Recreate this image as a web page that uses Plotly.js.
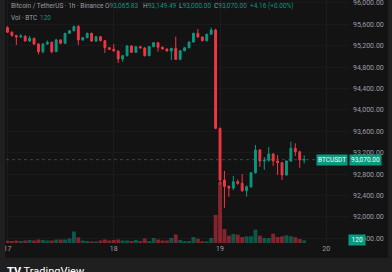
<!DOCTYPE html>
<html><head><meta charset="utf-8">
<script src="https://cdn.plot.ly/plotly-3.0.1.min.js"></script>
<style>html,body{margin:0;padding:0;background:#131313;overflow:hidden}#c{width:392px;height:272px}</style>
</head><body><div id="c"></div><script>
const times = [
'2024-12-17 00:00','2024-12-17 01:00','2024-12-17 02:00','2024-12-17 03:00','2024-12-17 04:00','2024-12-17 05:00','2024-12-17 06:00','2024-12-17 07:00',
'2024-12-17 08:00','2024-12-17 09:00','2024-12-17 10:00','2024-12-17 11:00','2024-12-17 12:00','2024-12-17 13:00','2024-12-17 14:00','2024-12-17 15:00',
'2024-12-17 16:00','2024-12-17 17:00','2024-12-17 18:00','2024-12-17 19:00','2024-12-17 20:00','2024-12-17 21:00','2024-12-17 22:00','2024-12-17 23:00',
'2024-12-18 00:00','2024-12-18 01:00','2024-12-18 02:00','2024-12-18 03:00','2024-12-18 04:00','2024-12-18 05:00','2024-12-18 06:00','2024-12-18 07:00',
'2024-12-18 08:00','2024-12-18 09:00','2024-12-18 10:00','2024-12-18 11:00','2024-12-18 12:00','2024-12-18 13:00','2024-12-18 14:00','2024-12-18 15:00',
'2024-12-18 16:00','2024-12-18 17:00','2024-12-18 18:00','2024-12-18 19:00','2024-12-18 20:00','2024-12-18 21:00','2024-12-18 22:00','2024-12-18 23:00',
'2024-12-19 00:00','2024-12-19 01:00','2024-12-19 02:00','2024-12-19 03:00','2024-12-19 04:00','2024-12-19 05:00','2024-12-19 06:00','2024-12-19 07:00',
'2024-12-19 08:00','2024-12-19 09:00','2024-12-19 10:00','2024-12-19 11:00','2024-12-19 12:00','2024-12-19 13:00','2024-12-19 14:00','2024-12-19 15:00',
'2024-12-19 16:00','2024-12-19 17:00','2024-12-19 18:00','2024-12-19 19:00'];
const opens = [95540,95455,95390,95365,95380,95290,95340,95233,95090,95233,95265,95090,95310,95246,95433,95482,
95560,95308,95351,95433,95289,95370,95295,95164,95134,95102,94953,95015,95196,95078,95183,95160,
95015,95183,95258,95172,95140,95102,95153,94947,95108,95164,95270,95433,95364,95295,95415,95495,
93657,92690,92570,92540,92658,92628,92490,92565,92826,93251,93045,93060,93176,93045,93014,92784,
93045,93283,93219,93065.83];
const highs = [95565,95470,95405,95420,95395,95385,95350,95245,95250,95300,95280,95330,95320,95440,95495,95575,
95590,95365,95445,95445,95385,95380,95305,95175,95233,95115,95030,95210,95205,95195,95195,95170,
95195,95270,95268,95185,95150,95160,95370,95115,95175,95280,95445,95514,95375,95425,95540,95520,
93670,92860,92590,92765,92700,92802,92590,92840,93345,93270,93120,93307,93190,93158,93030,93060,
93407,93377,93235,93149.49];
const lows = [95440,95375,95215,95350,95280,95270,95220,95040,95060,95220,95060,95080,95230,95235,95420,95470,
95215,95295,95340,95275,95270,95285,95065,95120,95095,94878,94902,95000,95065,95065,95150,95000,
95005,95175,95090,95130,95095,94934,94935,94930,95095,95150,95260,95350,95285,95280,95405,93640,
92600,92170,92378,92500,92600,92470,92378,92540,92810,92934,92880,93030,92952,92784,92690,92770,
93030,93139,92915,93000];
const closes = [95455,95390,95365,95380,95290,95340,95233,95090,95233,95265,95090,95310,95246,95433,95482,95560,
95308,95351,95433,95289,95370,95295,95164,95134,95102,94953,95015,95196,95078,95183,95160,95015,
95183,95258,95172,95140,95102,95153,94947,95108,95164,95270,95433,95364,95295,95415,95495,93657,
92690,92570,92540,92658,92628,92490,92565,92826,93251,93045,93060,93176,93045,93014,92784,93045,
93283,93219,93065.83,93070];
const volumes = [104,90,112,90,112,135,112,158,135,112,112,158,158,158,203,518,
248,112,90,68,68,112,158,112,135,158,112,112,90,135,90,203,
90,225,158,112,112,225,383,135,90,90,270,194,77,77,225,1260,
2745,630,329,405,374,270,302,302,599,329,225,225,419,270,302,347,
302,257,180,120];
const priceTicks = [91600,92000,92400,92800,93200,93600,94000,94400,94800,95200,95600,96000];
const dayTicks = ['2024-12-17','2024-12-18','2024-12-19','2024-12-20'];
const dayLabels = ['17','18','19','20'];
const header = {symbol:'Bitcoin / TetherUS · 1h · Binance', o:'93,065.83', h:'93,149.49', l:'93,000.00', c:'93,070.00', chg:'+4.16 (+0.00%)', volLabel:'Vol · BTC', vol:'120'};
const lastPrice = 93070, lastPriceText = '93,070.00', lastVol = 120, tickerName = 'BTCUSDT';

const GREEN='#089981', RED='#f23645', GRAY='#9b9ea6';
const W=392,Hh=272,L=6,R=44,T=0,B=29;
const PW=W-L-R, PH=Hh-T-B;
const PX = p => (p-L)/PW;
const PY = p => (T+PH-p)/PH;
const volColors = closes.map((c,i)=> c>=opens[i] ? 'rgba(8,153,129,0.5)' : 'rgba(242,54,69,0.5)');

const font = 'Roboto, "Noto Sans", sans-serif';
const traces = [
 {type:'bar', x:times, y:volumes, marker:{color:volColors, line:{width:0}}, yaxis:'y', xaxis:'x', hoverinfo:'skip'},
 {type:'candlestick', x:times, open:opens, high:highs, low:lows, close:closes, yaxis:'y2', xaxis:'x',
  increasing:{line:{color:GREEN,width:1}, fillcolor:GREEN},
  decreasing:{line:{color:RED,width:1}, fillcolor:RED}, whiskerwidth:0}
];
function ann(x,y,text,color,size,extra){return Object.assign({xref:'paper',yref:'paper',x:PX(x),y:PY(y),xanchor:'left',yanchor:'middle',text:text,showarrow:false,font:{family:font,size:size||6.5,color:color||GRAY}},extra||{});}
const sp = v => "<span style='color:"+GREEN+"'>"+v+"</span>";
const layout = {
 width:W,height:Hh,margin:{l:L,r:R,t:T,b:B,pad:0},
 paper_bgcolor:'#131313', plot_bgcolor:'#131313', showlegend:false, bargap:0.12, boxgap:0.4,
 xaxis:{type:'date', range:['2024-12-16 23:40','2024-12-20 04:54'], tickvals:dayTicks, ticktext:dayLabels,
   showgrid:true, gridcolor:'#1c1c1c', gridwidth:1, zeroline:false, showline:false, ticks:'',
   tickfont:{family:font,size:7,color:GRAY}, rangeslider:{visible:false}, fixedrange:true},
 yaxis:{range:[0,10935], visible:false, fixedrange:true, showgrid:false, zeroline:false},
 yaxis2:{overlaying:'y', side:'right', range:[91512,96056], tickvals:priceTicks, tickformat:',.2f',
   showgrid:true, gridcolor:'#1a1a1a', zeroline:false, showline:false, ticks:'', ticklabelstandoff:4,
   ticklabeloverflow:'allow', tickfont:{family:font,size:7,color:GRAY}, fixedrange:true},
 shapes:[
  {type:'line', xref:'paper', yref:'y2', x0:0, x1:1, y0:lastPrice, y1:lastPrice, line:{color:'rgba(8,153,129,0.55)', width:1, dash:'dot'}},
  {type:'rect', xref:'paper', yref:'paper', x0:PX(0), x1:PX(392), y0:PY(272), y1:PY(258), fillcolor:'#1f1f1f', line:{width:0}},
  {type:'rect', xref:'paper', yref:'paper', x0:PX(0), x1:PX(5), y0:PY(272), y1:PY(0), fillcolor:'#1f1f1f', line:{width:0}},
  {type:'rect', xref:'paper', yref:'paper', x0:PX(388), x1:PX(392), y0:PY(272), y1:PY(0), fillcolor:'#1f1f1f', line:{width:0}}
 ],
 annotations:[
  ann(9,6,header.symbol),
  ann(103,6,'O'+sp(header.o)),
  ann(141,6,'H'+sp(header.h)),
  ann(177,6,'L'+sp(header.l)),
  ann(212,6,'C'+sp(header.c)),
  ann(248,6,header.chg,GREEN),
  ann(9,18,header.volLabel),
  ann(38,18,header.vol,GREEN),
  {xref:'paper',yref:'y2',x:PX(348),y:lastPrice,xanchor:'right',yanchor:'middle',text:tickerName,showarrow:false,bgcolor:GREEN,borderpad:1,font:{family:font,size:6.5,color:'#ffffff'}},
  {xref:'paper',yref:'y2',x:PX(349),y:lastPrice,xanchor:'left',yanchor:'middle',text:lastPriceText,showarrow:false,bgcolor:GREEN,borderpad:1,font:{family:font,size:6.5,color:'#ffffff'}},
  {xref:'paper',yref:'y',x:PX(348),y:lastVol,xanchor:'left',yanchor:'middle',text:' '+header.vol+' ',showarrow:false,bgcolor:GREEN,borderpad:1,font:{family:font,size:6.5,color:'#ffffff'}},
  ann(5,271,'<b>TV</b> TradingView','#ffffff',11)
 ]
};
Plotly.newPlot('c',traces,layout,{staticPlot:true,displayModeBar:false});
</script></body></html>
